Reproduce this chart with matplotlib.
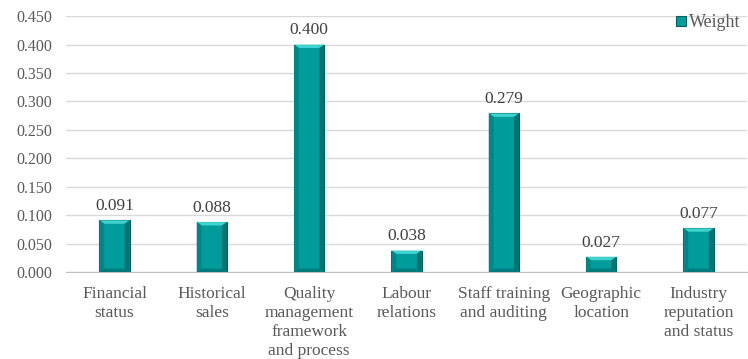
import matplotlib.pyplot as plt
from matplotlib.patches import Polygon

categories = ["Financial\nstatus", "Historical\nsales",
              "Quality\nmanagement\nframework\nand process", "Labour\nrelations",
              "Staff training\nand auditing", "Geographic\nlocation",
              "Industry\nreputation\nand status"]
weights = [0.091, 0.088, 0.400, 0.038, 0.279, 0.027, 0.077]
yticks = [0.0, 0.05, 0.10, 0.15, 0.20, 0.25, 0.30, 0.35, 0.40, 0.45]

plt.rcParams['font.family'] = ['Liberation Serif', 'DejaVu Serif']

fig = plt.figure(figsize=(7.48, 3.59), dpi=100)
ax = fig.add_axes([0.088, 0.242, 0.911, 0.713])

x = range(len(weights))
bw = 0.31
bars = ax.bar(x, weights, width=bw, color='#009c9c', edgecolor='#006060',
              linewidth=0.8, zorder=3, label='Weight')

# bevel look on the bars: light top, darker sides
for b in bars:
    x0, y0 = b.get_x(), b.get_y()
    w, h = b.get_width(), b.get_height()
    dx = w * 0.16
    dy = min(0.006, h * 0.3)
    ax.add_patch(Polygon([(x0, y0 + h), (x0 + w, y0 + h), (x0 + w - dx, y0 + h - dy),
                          (x0 + dx, y0 + h - dy)], closed=True, color='#40d2cc', zorder=4, lw=0))
    ax.add_patch(Polygon([(x0 + w, y0 + h), (x0 + w, y0), (x0 + w - dx, y0 + dy),
                          (x0 + w - dx, y0 + h - dy)], closed=True, color='#007272', zorder=4, lw=0))
    ax.add_patch(Polygon([(x0, y0 + h), (x0, y0), (x0 + dx, y0 + dy),
                          (x0 + dx, y0 + h - dy)], closed=True, color='#008686', zorder=4, lw=0))
    ax.add_patch(Polygon([(x0, y0), (x0 + w, y0), (x0 + w - dx, y0 + dy),
                          (x0 + dx, y0 + dy)], closed=True, color='#007a7a', zorder=4, lw=0))

for xi, v in zip(x, weights):
    ax.text(xi, v + 0.011, f"{v:.3f}", ha='center', va='bottom', fontsize=12.5, color='#404040')

ax.set_xlim(-0.5, len(weights) - 0.5)
ax.set_ylim(0, 0.45)
ax.set_yticks(yticks)
ax.set_yticklabels([f"{t:.3f}" for t in yticks])
ax.set_xticks(list(x))
ax.set_xticklabels(categories, fontsize=12.5, linespacing=1.25)
ax.tick_params(axis='both', length=0, colors='#595959')
ax.tick_params(axis='y', labelsize=11.5, pad=10)
ax.tick_params(axis='x', pad=10)
ax.grid(axis='y', color='#d9d9d9', linewidth=1, zorder=0)
for s in ['top', 'right', 'left']:
    ax.spines[s].set_visible(False)
ax.spines['bottom'].set_color('#bfbfbf')

leg = ax.legend(loc='upper right', bbox_to_anchor=(1.0, 1.035), frameon=False, fontsize=13,
                handlelength=0.55, handleheight=0.55, handletextpad=0.15, borderaxespad=0)
for t in leg.get_texts():
    t.set_color('#595959')

fig.savefig('out.png', dpi=100)
